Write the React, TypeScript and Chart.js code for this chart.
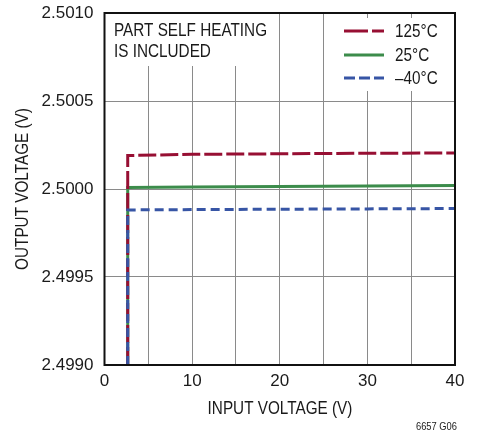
import React, { useEffect, useRef } from "react";
import { Chart, registerables } from "chart.js";

Chart.register(...registerables);

const vin = [2.65, 2.65, 10, 20, 30, 40];
const v125 = [2.499, 2.50019, 2.500197, 2.5002, 2.500203, 2.500205];
const v25 = [2.499, 2.500008, 2.500011, 2.500014, 2.500017, 2.50002];
const vm40 = [2.499, 2.499881, 2.499883, 2.499885, 2.499887, 2.499889];

const seriesLabels = ["125°C", "25°C", "–40°C"];
const seriesColors = ["#970f33", "#3c8c4b", "#3755a5"];
const seriesDash = [[18, 4], [], [9, 5]];
const legendDash = [[24, 4], [], [11, 4]];
const seriesOrder = [1, 2, 0];
const noteLines = ["PART SELF HEATING", "IS INCLUDED"];
const xTitle = "INPUT VOLTAGE (V)";
const yTitle = "OUTPUT VOLTAGE (V)";
const figureId = "6657 G06";

const FONT = '"Liberation Sans", Arial, sans-serif';

export default function App() {
  const ref = useRef<HTMLCanvasElement | null>(null);

  useEffect(() => {
    if (!ref.current) return;
    const mk = (ys: number[]) => vin.map((x, i) => ({ x, y: ys[i] }));
    const allSeries = [v125, v25, vm40];

    const narrowText = (ctx: any, t: string, x: number, y: number, align: string) => {
      ctx.save();
      ctx.translate(x, y);
      ctx.scale(0.85, 1);
      ctx.textAlign = align;
      ctx.fillText(t, 0, 0);
      ctx.restore();
    };

    const overlay = {
      id: "overlay",
      beforeDatasetsDraw(chart: any) {
        const ctx = chart.ctx;
        const a = chart.chartArea;
        ctx.save();
        ctx.fillStyle = "#fff";
        ctx.fillRect(a.left + 2, a.top + 1, 165, 52);
        ctx.fillRect(a.right - 115, 18, 114, 73);
        ctx.restore();
      },
      afterDraw(chart: any) {
        const ctx = chart.ctx;
        const a = chart.chartArea;
        ctx.save();
        ctx.strokeStyle = "#111";
        ctx.lineWidth = 2;
        ctx.strokeRect(a.left, a.top, a.right - a.left, a.bottom - a.top);
        ctx.fillStyle = "#1a1a1a";
        ctx.font = "18px " + FONT;
        ctx.textBaseline = "middle";
        narrowText(ctx, noteLines[0], 114, 31, "left");
        narrowText(ctx, noteLines[1], 114, 52, "left");
        // legend
        const ly = [31, 55, 78];
        for (let i = 0; i < 3; i++) {
          ctx.save();
          ctx.strokeStyle = seriesColors[i];
          ctx.lineWidth = 3;
          ctx.setLineDash(legendDash[i]);
          ctx.beginPath();
          ctx.moveTo(344, ly[i]);
          ctx.lineTo(384, ly[i]);
          ctx.stroke();
          ctx.restore();
          narrowText(ctx, seriesLabels[i], 395, ly[i] + 1, "left");
        }
        // axis titles
        narrowText(ctx, xTitle, 280, 409, "center");
        ctx.save();
        ctx.translate(23, 189);
        ctx.rotate(-Math.PI / 2);
        narrowText(ctx, yTitle, 0, 0, "center");
        ctx.restore();
        ctx.font = "11px " + FONT;
        narrowText(ctx, figureId, 457, 427, "right");
        ctx.restore();
      },
    };

    const chart = new Chart(ref.current, {
      type: "scatter",
      data: {
        datasets: allSeries.map((ys, i) => ({
          label: seriesLabels[i],
          data: mk(ys),
          showLine: true,
          order: seriesOrder[i],
          borderColor: seriesColors[i],
          backgroundColor: seriesColors[i],
          borderWidth: 3,
          borderDash: seriesDash[i],
          pointRadius: 0,
          tension: 0,
        })),
      },
      options: {
        responsive: false,
        animation: false,
        layout: { padding: { left: 0, right: 25, top: 13, bottom: 0 } },
        plugins: { legend: { display: false }, tooltip: { enabled: false } },
        scales: {
          x: {
            type: "linear",
            min: 0,
            max: 40,
            afterFit(s: any) {
              s.height = 69;
              s.paddingLeft = 0;
              s.paddingRight = 0;
            },
            ticks: {
              stepSize: 5,
              autoSkip: false,
              maxRotation: 0,
              padding: 6,
              color: "#1a1a1a",
              font: { family: FONT, size: 17 },
              callback: (v: any) => (Number(v) % 10 === 0 ? String(v) : ""),
            },
            grid: { color: "#8a8a8a", lineWidth: 1, drawTicks: false },
            border: { display: false },
          },
          y: {
            type: "linear",
            min: 2.499,
            max: 2.501,
            afterFit(s: any) {
              s.width = 104.5;
              s.paddingTop = 0;
              s.paddingBottom = 0;
            },
            ticks: {
              stepSize: 0.0005,
              padding: 11,
              color: "#1a1a1a",
              font: { family: FONT, size: 17 },
              callback: (v: any) => Number(v).toFixed(4),
            },
            grid: { color: "#8a8a8a", lineWidth: 1, drawTicks: false },
            border: { display: false },
          },
        },
      },
      plugins: [overlay],
    });
    return () => chart.destroy();
  }, []);

  return (
    <div style={{ position: "fixed", left: 0, top: 0, width: 480, height: 434, background: "#fff" }}>
      <canvas ref={ref} width={480} height={434} style={{ display: "block" }} />
    </div>
  );
}
